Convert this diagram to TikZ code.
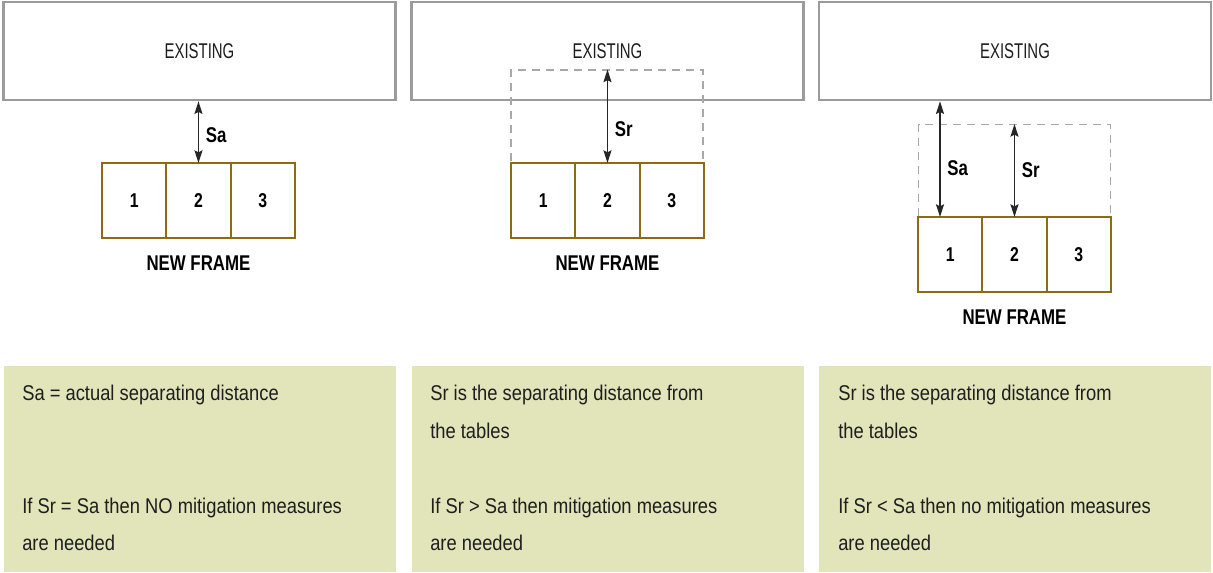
\documentclass[tikz,border=0pt]{standalone}
\usepackage{fontspec}
\setmainfont{Liberation Sans}[FakeStretch=0.86]
\newfontfamily\thinfont{Liberation Sans}[FakeStretch=0.70]
\newfontfamily\labfont{Liberation Sans}[FakeStretch=0.79]
\usetikzlibrary{arrows.meta}
\usetikzlibrary{positioning}

\definecolor{exgray}{HTML}{9B9B9B}
\definecolor{dashgray}{HTML}{A8A8A8}
\definecolor{framebrown}{HTML}{8C6B14}
\definecolor{notegreen}{HTML}{E2E4BA}
\definecolor{textdark}{HTML}{1E1E1E}

\tikzset{
  existing/.style={draw=exgray, line width=1.9pt, fill=white, minimum width=294pt, minimum height=73.5pt,
    text=textdark, font=\thinfont\fontsize{16}{19}\selectfont},
  reqbox/.style={draw=dashgray, line width=1pt, dash pattern=on 6pt off 4.5pt, minimum width=144pt, minimum height=69.5pt},
  cell/.style={draw=framebrown, line width=1.5pt, minimum width=48.2pt, minimum height=56.25pt, outer sep=0pt,
    text=black, font=\labfont\bfseries\fontsize{15}{18}\selectfont},
  framelabel/.style={inner sep=0pt, text=black, font=\labfont\bfseries\fontsize{16}{19}\selectfont},
  dim/.style={draw=black!85, line width=1.1pt, {Stealth[length=9.5pt,width=6pt,inset=1.5pt]}-{Stealth[length=9.5pt,width=6pt,inset=1.5pt]}},
  dimlabel/.style={inner sep=0pt, text=black, font=\labfont\bfseries\fontsize{16}{19}\selectfont},
  note/.style={fill=notegreen, draw=none, minimum width=294pt, minimum height=154.5pt},
  notetext/.style={anchor=base west, inner sep=0pt, text=textdark, font=\fontsize{16}{19}\selectfont}
}

\begin{document}
\begin{tikzpicture}[x=0.75pt, y=-0.75pt]
\useasboundingbox (0,0) rectangle (1213,573);

% panel 1: Sa
\node[existing] (ex1) at (199.5,51) {EXISTING};
\node[cell] (a1) at (134.2,200.5) {1};
\node[cell, right=0pt of a1] (a2) {2};
\node[cell, right=0pt of a2] (a3) {3};
\node[framelabel, below=13pt of a2] (nf1) {NEW FRAME};
\draw[dim] (ex1.south -| a2.north) -- (a2.north) node[dimlabel, pos=.55, right=5pt] {Sa};

% panel 2: Sr > Sa
\node[existing] (ex2) at (607.5,51) {EXISTING};
\node[reqbox] (rq2) at (607,116.5) {};
\node[cell] (b1) at (543.2,200.5) {1};
\node[cell, right=0pt of b1] (b2) {2};
\node[cell, right=0pt of b2] (b3) {3};
\node[framelabel, below=13pt of b2] (nf2) {NEW FRAME};
\draw[dim] (b2.north |- rq2.north) -- (b2.north) node[dimlabel, pos=.64, right=5pt] {Sr};

% panel 3: Sr < Sa
\node[existing] (ex3) at (1015,51) {EXISTING};
\node[reqbox] (rq3) at (1014.5,171) {};
\node[cell] (c1) at (950.2,254.5) {1};
\node[cell, right=0pt of c1] (c2) {2};
\node[cell, right=0pt of c2] (c3) {3};
\node[framelabel, below=13pt of c2] (nf3) {NEW FRAME};
\coordinate (sa3) at (940,217);
\draw[dim] (sa3 |- ex3.south) -- (sa3) node[dimlabel, pos=.58, right=5pt] {Sa};
\draw[dim] (c2.north |- rq3.north) -- (c2.north) node[dimlabel, midway, right=5pt] {Sr};

% notes
\node[note] (g1) at (199.5,469) {};
\node[note] (g2) at (607.5,469) {};
\node[note] (g3) at (1015,469) {};

\node[notetext] (t1a) at (22,401) {Sa = actual separating distance};
\node[notetext] (t1b) at (22,513) {If Sr = Sa then NO mitigation measures};
\node[notetext] (t1c) at (22,550) {are needed};

\node[notetext] (t2a) at (430,401) {Sr is the separating distance from};
\node[notetext] (t2b) at (430,438) {the tables};
\node[notetext] (t2c) at (430,513) {If Sr > Sa then mitigation measures};
\node[notetext] (t2d) at (430,550) {are needed};

\node[notetext] (t3a) at (838,401) {Sr is the separating distance from};
\node[notetext] (t3b) at (838,438) {the tables};
\node[notetext] (t3c) at (838,513) {If Sr < Sa then no mitigation measures};
\node[notetext] (t3d) at (838,550) {are needed};
\end{tikzpicture}
\end{document}
